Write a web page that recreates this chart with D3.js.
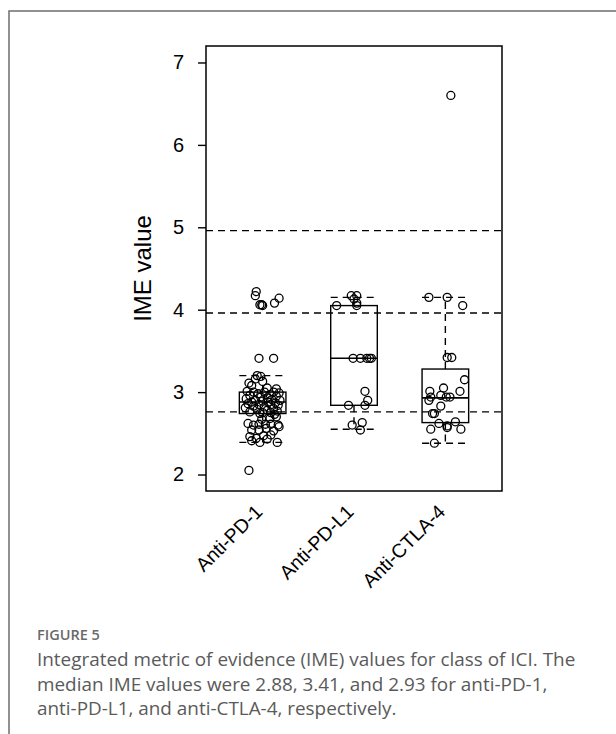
<!DOCTYPE html>
<html>
<head>
<meta charset="utf-8">
<script src="https://cdn.jsdelivr.net/npm/d3@7"></script>
<style>
  body { margin: 0; background: #fff; }
  svg { display: block; }
</style>
</head>
<body>
<div id="vis"></div>
<script>
const FRAME_WIDTH = 616;
const FRAME_HEIGHT = 734;
const PLOT = {left: 206, right: 502, top: 46, bottom: 491};

// Data
const categories = ['Anti-PD-1', 'Anti-PD-L1', 'Anti-CTLA-4'];
const yTicks = [2, 3, 4, 5, 6, 7];
const refLines = [4.96, 3.96, 2.76];

// box statistics per class
const whiskLow = [2.39, 2.55, 2.38];
const q1 = [2.74, 2.84, 2.63];
const median = [2.88, 3.41, 2.93];
const q3 = [3.00, 4.05, 3.28];
const whiskHigh = [3.20, 4.15, 4.15];

// individual IME values and their horizontal jitter (in category units)
const pd1Values = [4.22, 4.17, 4.06, 4.06, 4.05, 4.14, 4.08, 3.41, 3.41,
  3.20, 3.19, 3.16, 3.11, 3.13, 3.08, 3.05, 3.04,
  3.01, 3.00, 3.00, 3.00, 2.99, 2.98, 2.97, 2.96, 2.95, 2.94, 2.93, 2.92, 2.91, 2.90, 2.90,
  2.89, 2.88, 2.88, 2.87, 2.86, 2.85, 2.85, 2.84, 2.83, 2.82, 2.81, 2.80, 2.79, 2.78, 2.77,
  2.76, 2.75, 2.75, 2.74, 2.73,
  2.70, 2.68, 2.67, 2.62, 2.61, 2.61, 2.61, 2.60, 2.60, 2.58, 2.56, 2.54, 2.54, 2.53,
  2.48, 2.47, 2.46, 2.44, 2.43, 2.41, 2.39, 2.39, 2.05];
const pd1Jitter = [-0.07, -0.08, -0.03, -0.01, 0.00, 0.18, 0.13, -0.04, 0.12,
  -0.06, -0.02, -0.08, -0.15, 0.00, -0.12, 0.05, 0.15,
  -0.17, -0.10, 0.02, 0.12, 0.18, -0.05, 0.08, -0.14, 0.15, -0.02, 0.05, -0.18, 0.10, -0.08, 0.19,
  0.00, -0.12, 0.06, 0.14, -0.16, -0.04, 0.09, 0.17, -0.10, 0.02, -0.19, 0.12, -0.06, 0.05, 0.16,
  -0.14, 0.00, 0.09, -0.03, 0.13,
  0.15, 0.08, -0.01, -0.16, -0.04, 0.03, 0.09, -0.10, 0.17, 0.18, 0.04, -0.12, -0.04, 0.12,
  0.09, 0.01, -0.14, -0.07, 0.05, -0.12, -0.03, 0.16, -0.15];

const pdl1Values = [4.17, 4.17, 4.13, 4.08, 4.05, 4.05,
  3.41, 3.41, 3.41, 3.41, 3.41, 3.01, 2.90, 2.84, 2.84, 2.63, 2.60, 2.54];
const pdl1Jitter = [-0.03, 0.03, 0.00, 0.03, -0.19, 0.03,
  -0.01, 0.07, 0.14, 0.17, 0.19, 0.12, 0.15, 0.12, -0.06, 0.09, -0.02, 0.07];

const ctla4Values = [6.60, 4.15, 4.15, 4.05, 3.42, 3.42, 3.15, 3.01, 3.01, 3.05, 2.96,
  2.90, 2.94, 2.94, 2.94, 2.83, 2.74, 2.74, 2.62, 2.55, 2.59, 2.57, 2.64, 2.55, 2.38];
const ctla4Jitter = [0.06, -0.18, 0.02, 0.19, 0.02, 0.07, 0.21, 0.16, -0.17, -0.02, -0.05,
  -0.18, -0.16, 0.01, 0.05, -0.05, -0.14, -0.12, -0.07, -0.16, 0.02, 0.02, 0.11, 0.17, -0.12];

const groupValues = [pd1Values, pdl1Values, ctla4Values];
const groupJitter = [pd1Jitter, pdl1Jitter, ctla4Jitter];

const points = [];
groupValues.forEach((vals, g) => {
  vals.forEach((v, i) => points.push({x: g + 1 + groupJitter[g][i], y: v}));
});

const FRAME = d3.select('#vis')
  .append('svg')
    .attr('width', FRAME_WIDTH)
    .attr('height', FRAME_HEIGHT);

// outer figure border
FRAME.append('rect')
  .attr('x', 9).attr('y', 11)
  .attr('width', 700).attr('height', 800)
  .attr('fill', 'none')
  .attr('stroke', '#6e6e6e')
  .attr('stroke-width', 1.5);

const X_SCALE = d3.scaleLinear().domain([0.38, 3.62]).range([PLOT.left, PLOT.right]);
const Y_SCALE = d3.scaleLinear().domain([1.8, 7.2]).range([PLOT.bottom, PLOT.top]);

const BOX_W = X_SCALE(1.255) - X_SCALE(1);
const DASH = '7,5';

// reference lines
FRAME.selectAll('.ref')
  .data(refLines)
  .enter()
  .append('line')
    .attr('x1', PLOT.left).attr('x2', PLOT.right)
    .attr('y1', (d) => Y_SCALE(d)).attr('y2', (d) => Y_SCALE(d))
    .attr('stroke', '#000')
    .attr('stroke-width', 1.4)
    .attr('stroke-dasharray', DASH);

// boxes
const boxes = FRAME.selectAll('.box')
  .data(categories)
  .enter()
  .append('g');

boxes.append('rect')
  .attr('x', (d, i) => X_SCALE(i + 1) - BOX_W)
  .attr('y', (d, i) => Y_SCALE(q3[i]))
  .attr('width', BOX_W * 2)
  .attr('height', (d, i) => Y_SCALE(q1[i]) - Y_SCALE(q3[i]))
  .attr('fill', 'none')
  .attr('stroke', '#000')
  .attr('stroke-width', 1.4);

boxes.append('line')
  .attr('x1', (d, i) => X_SCALE(i + 1) - BOX_W)
  .attr('x2', (d, i) => X_SCALE(i + 1) + BOX_W)
  .attr('y1', (d, i) => Y_SCALE(median[i]))
  .attr('y2', (d, i) => Y_SCALE(median[i]))
  .attr('stroke', '#000')
  .attr('stroke-width', 1.6);

// whiskers and staples
[[q3, whiskHigh], [q1, whiskLow]].forEach(([from, to]) => {
  boxes.append('line')
    .attr('x1', (d, i) => X_SCALE(i + 1))
    .attr('x2', (d, i) => X_SCALE(i + 1))
    .attr('y1', (d, i) => Y_SCALE(from[i]))
    .attr('y2', (d, i) => Y_SCALE(to[i]))
    .attr('stroke', '#000')
    .attr('stroke-width', 1.4)
    .attr('stroke-dasharray', DASH);
  boxes.append('line')
    .attr('x1', (d, i) => X_SCALE(i + 1) - BOX_W)
    .attr('x2', (d, i) => X_SCALE(i + 1) + BOX_W)
    .attr('y1', (d, i) => Y_SCALE(to[i]))
    .attr('y2', (d, i) => Y_SCALE(to[i]))
    .attr('stroke', '#000')
    .attr('stroke-width', 1.4)
    .attr('stroke-dasharray', DASH);
});

// jittered points
FRAME.selectAll('.pt')
  .data(points)
  .enter()
  .append('circle')
    .attr('cx', (d) => X_SCALE(d.x))
    .attr('cy', (d) => Y_SCALE(d.y))
    .attr('r', 4)
    .attr('fill', 'none')
    .attr('stroke', '#000')
    .attr('stroke-width', 1.3);

// plot border
FRAME.append('rect')
  .attr('x', PLOT.left).attr('y', PLOT.top)
  .attr('width', PLOT.right - PLOT.left)
  .attr('height', PLOT.bottom - PLOT.top)
  .attr('fill', 'none')
  .attr('stroke', '#000')
  .attr('stroke-width', 1.5);

// y axis
const yAxis = FRAME.append('g')
  .attr('transform', 'translate(' + PLOT.left + ',0)')
  .call(d3.axisLeft(Y_SCALE).tickValues(yTicks).tickSize(8).tickPadding(14).tickFormat(d3.format('d')));
yAxis.select('.domain').remove();
yAxis.selectAll('line').attr('stroke', '#000').attr('stroke-width', 1.4);
yAxis.selectAll('text')
  .attr('font-family', 'Liberation Sans, Arial, sans-serif')
  .attr('font-size', '20px')
  .attr('fill', '#000');

FRAME.append('text')
  .attr('transform', 'translate(151,' + ((PLOT.top + PLOT.bottom) / 2) + ') rotate(-90)')
  .attr('text-anchor', 'middle')
  .attr('font-family', 'Liberation Sans, Arial, sans-serif')
  .attr('font-size', '24px')
  .text('IME value');

// x labels
FRAME.selectAll('.xlab')
  .data(categories)
  .enter()
  .append('text')
    .attr('transform', (d, i) => 'translate(' + (X_SCALE(i + 1) + 1) + ',' + 513 + ') rotate(-45)')
    .attr('text-anchor', 'end')
    .attr('font-family', 'Liberation Sans, Arial, sans-serif')
    .attr('font-size', '19.5px')
    .text((d) => d);

// caption
FRAME.append('text')
  .attr('x', 37).attr('y', 640)
  .attr('font-family', 'Open Sans, sans-serif')
  .attr('font-size', '14.5px')
  .attr('font-weight', 600)
  .attr('fill', '#6a6a6a')
  .text('FIGURE 5');

const caption = [
  'Integrated metric of evidence (IME) values for class of ICI. The',
  'median IME values were 2.88, 3.41, and 2.93 for anti-PD-1,',
  'anti-PD-L1, and anti-CTLA-4, respectively.'
];
FRAME.selectAll('.cap')
  .data(caption)
  .enter()
  .append('text')
    .attr('x', 37)
    .attr('y', (d, i) => 666 + i * 24.5)
    .attr('font-family', 'Open Sans, sans-serif')
    .attr('font-size', '18.9px')
    .attr('fill', '#5a5a5a')
    .text((d) => d);
</script>
</body>
</html>
